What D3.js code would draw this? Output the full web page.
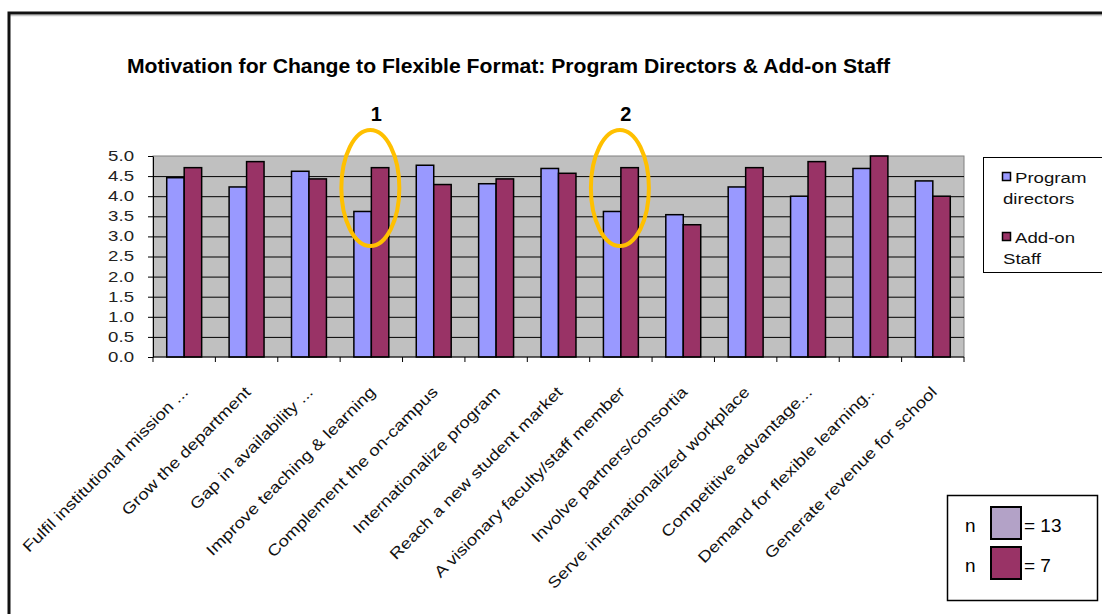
<!DOCTYPE html>
<html>
<head>
<meta charset="utf-8">
<script src="https://cdn.jsdelivr.net/npm/d3@7"></script>
<style>
body {margin: 0; background: #fff;}
svg text {font-family: Arial, "Liberation Sans", sans-serif;}
</style>
</head>
<body>
<div id="chart"></div>
<script>
// motivation for change - grouped bar chart (slide copy)

var categories = [
	'Fulfil institutional mission ...',
	'Grow the department',
	'Gap in availability ...',
	'Improve teaching & learning',
	'Complement the on-campus',
	'Internationalize program',
	'Reach a new student market',
	'A visionary faculty/staff member',
	'Involve partners/consortia',
	'Serve internationalized workplace',
	'Competitive advantage...',
	'Demand for flexible learning..',
	'Generate revenue for school'
];
var program_directors = [4.46, 4.23, 4.62, 3.62, 4.77, 4.31, 4.69, 3.62, 3.54, 4.23, 4.00, 4.69, 4.38];
var addon_staff = [4.71, 4.86, 4.43, 4.71, 4.29, 4.43, 4.57, 4.71, 3.29, 4.71, 4.86, 5.00, 4.00];
var series_names = ['Program directors', 'Add-on Staff'];
var y_ticks = [0, 0.5, 1, 1.5, 2, 2.5, 3, 3.5, 4, 4.5, 5];
var sample_sizes = [13, 7];
var marked = [3, 7];	// categories circled on the slide
var title = 'Motivation for Change to Flexible Format: Program Directors & Add-on Staff';

var conf = {
	width: 1102, height: 614,
	left: 153, top: 156, right: 964, bottom: 357,
	colors: ['#9999ff', '#993366'],
	n_colors: ['#b3a2c7', '#993366'],
	stretch: 1.33
};

// excel text on the slide is stretched sideways
function stretch(sel, k) {
	sel.each(function () {
		var w = this.getComputedTextLength();
		d3.select(this).attr('textLength', w*k).attr('lengthAdjust', 'spacingAndGlyphs');
	});
}

var svg = d3.select('#chart').append('svg')
	.attr('width', conf.width).attr('height', conf.height);

// slide frame
svg.append('line')
	.attr('x1', 9).attr('y1', 15.5).attr('x2', conf.width).attr('y2', 15.5)
	.attr('stroke', '#c8c8c8').attr('stroke-width', 1.5);
svg.append('path')
	.attr('d', 'M9,' + conf.height + 'L9,13L' + conf.width + ',13')
	.attr('fill', 'none').attr('stroke', '#111').attr('stroke-width', 3);

svg.append('text')
	.attr('x', 127).attr('y', 73)
	.attr('font-size', 20).attr('font-weight', 'bold')
	.attr('textLength', 763).attr('lengthAdjust', 'spacingAndGlyphs')
	.text(title);

var x = d3.scaleBand().domain(categories).range([conf.left, conf.right]);
var bw = x.bandwidth();
var x1 = d3.scaleBand().domain([0, 1]).range([bw*0.22, bw*0.78]);
var y = d3.scaleLinear().domain([0, 5]).range([conf.bottom, conf.top]);

// plot area
svg.append('rect')
	.attr('x', conf.left).attr('y', conf.top)
	.attr('width', conf.right - conf.left).attr('height', conf.bottom - conf.top)
	.attr('fill', '#c0c0c0').attr('stroke', '#808080').attr('stroke-width', 1);

var grid = svg.append('g')
	.attr('transform', 'translate(' + conf.left + ',0)')
	.call(d3.axisLeft(y).tickValues(y_ticks.slice(1, -1)).tickSize(-(conf.right - conf.left)).tickFormat(''));
grid.select('.domain').remove();
grid.selectAll('line').attr('stroke', '#000').attr('stroke-width', 1);

// bars
var groups = svg.append('g').selectAll('g.cat')
	.data(categories)
	.enter().append('g')
	.attr('class', 'cat')
	.attr('transform', function (d) {return 'translate(' + x(d) + ',0)';});

groups.selectAll('rect')
	.data(function (d, i) {return [program_directors[i], addon_staff[i]];})
	.enter().append('rect')
	.attr('x', function (d, j) {return x1(j);})
	.attr('width', x1.bandwidth())
	.attr('y', function (d) {return y(d);})
	.attr('height', function (d) {return y(0) - y(d);})
	.attr('fill', function (d, j) {return conf.colors[j];})
	.attr('stroke', '#000').attr('stroke-width', 1.5);

// y axis
var y_axis = svg.append('g')
	.attr('transform', 'translate(' + conf.left + ',0)')
	.call(d3.axisLeft(y).tickValues(y_ticks).tickFormat(d3.format('.1f')).tickSize(5).tickSizeOuter(0).tickPadding(14));
y_axis.select('.domain').attr('stroke', '#000');
y_axis.selectAll('line').attr('stroke', '#000');
y_axis.selectAll('text').attr('font-size', 14).attr('fill', '#222').attr('font-family', 'Arial, "Liberation Sans", sans-serif')
	.call(stretch, conf.stretch);

// x axis: ticks on category boundaries
var edges = categories.map(function (c) {return x(c);}).concat([conf.right]);
svg.append('line')
	.attr('x1', conf.left).attr('y1', conf.bottom).attr('x2', conf.right).attr('y2', conf.bottom)
	.attr('stroke', '#000');
svg.append('g').selectAll('line')
	.data(edges)
	.enter().append('line')
	.attr('x1', function (d) {return d;}).attr('x2', function (d) {return d;})
	.attr('y1', conf.bottom).attr('y2', conf.bottom + 5)
	.attr('stroke', '#000');

svg.append('g').selectAll('text')
	.data(categories)
	.enter().append('text')
	.attr('transform', function (d) {return 'translate(' + (x(d) + bw/2 + 5) + ',393) rotate(-45)';})
	.attr('text-anchor', 'end')
	.attr('font-size', 15.5).attr('fill', '#111')
	.text(function (d) {return d;})
	.call(stretch, 1.2);

// highlights
marked.forEach(function (k, i) {
	var cx = x(categories[k]) + bw/2;
	svg.append('ellipse')
		.attr('cx', cx - 1).attr('cy', 188).attr('rx', 29).attr('ry', 58)
		.attr('fill', 'none').attr('stroke', '#ffc000').attr('stroke-width', 4);
	svg.append('text')
		.attr('x', cx + 5).attr('y', 121)
		.attr('text-anchor', 'middle').attr('font-size', 20).attr('font-weight', 'bold')
		.text(i + 1);
});

// series legend
var leg = svg.append('g');
leg.append('rect')
	.attr('x', 983.5).attr('y', 157.5).attr('width', 120).attr('height', 115)
	.attr('fill', '#fff').attr('stroke', '#000').attr('stroke-width', 1);
series_names.forEach(function (name, j) {
	var words = name.split(' ');
	var top = 178 + j*60;
	leg.append('rect')
		.attr('x', 1002.5).attr('y', top - 5.5).attr('width', 8).attr('height', 8)
		.attr('fill', conf.colors[j]).attr('stroke', '#000').attr('stroke-width', 1.5);
	leg.append('text')
		.attr('x', 1015).attr('y', top + 5)
		.attr('font-size', 14).attr('fill', '#111')
		.text(words[0]).call(stretch, conf.stretch);
	leg.append('text')
		.attr('x', 1003).attr('y', top + 26)
		.attr('font-size', 14).attr('fill', '#111')
		.text(words.slice(1).join(' ')).call(stretch, conf.stretch);
});

// sample size box
var nbox = svg.append('g');
nbox.append('rect')
	.attr('x', 947.5).attr('y', 495.5).attr('width', 150).attr('height', 105)
	.attr('fill', '#fff').attr('stroke', '#000').attr('stroke-width', 1.5);
sample_sizes.forEach(function (n, j) {
	var top = 507 + j*40;
	nbox.append('text')
		.attr('x', 965).attr('y', top + 25)
		.attr('font-size', 19).attr('font-family', '"Open Sans", sans-serif')
		.text('n');
	nbox.append('rect')
		.attr('x', 991).attr('y', top).attr('width', 30).attr('height', 32)
		.attr('fill', conf.n_colors[j]).attr('stroke', '#000').attr('stroke-width', 2);
	nbox.append('text')
		.attr('x', 1024).attr('y', top + 25)
		.attr('font-size', 19).attr('font-family', '"Open Sans", sans-serif')
		.text('= ' + n);
});
</script>
</body>
</html>
